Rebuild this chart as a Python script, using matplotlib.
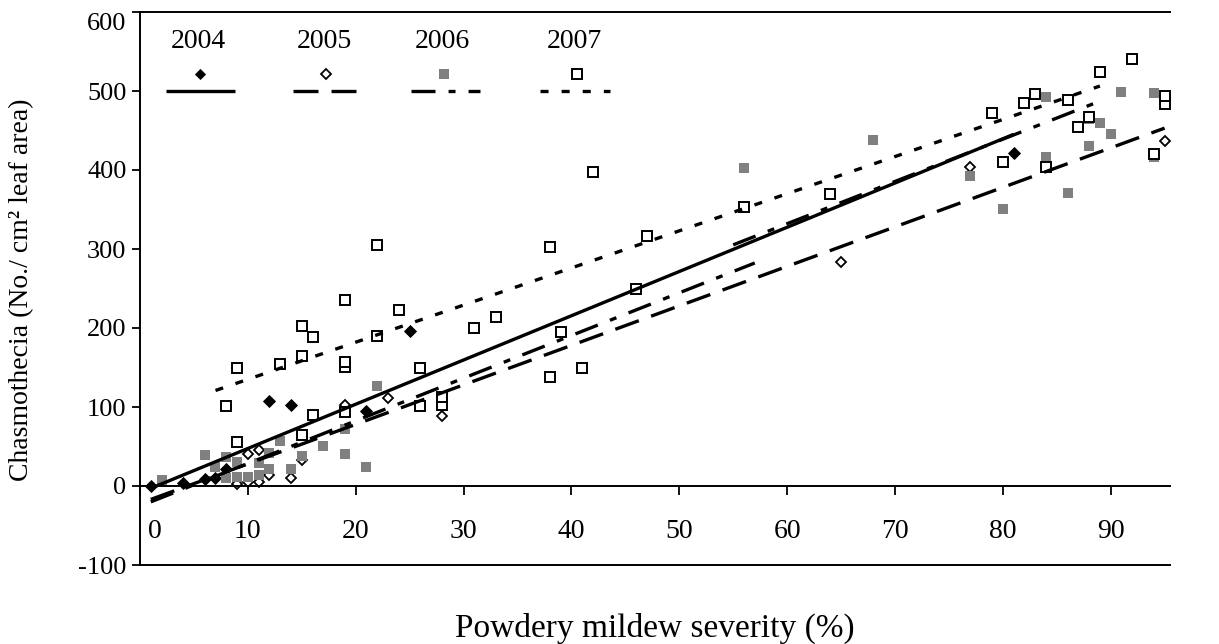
import matplotlib
matplotlib.use("Agg")
import matplotlib.pyplot as plt
from matplotlib.transforms import ScaledTranslation

plt.rcParams['font.family'] = ['Liberation Serif', 'DejaVu Serif']
plt.rcParams['lines.scale_dashes'] = False

# Powdery mildew severity (%) and chasmothecia density, one pair of lists per season
sev_2004 = [1, 4, 6, 7, 8, 12, 14, 21, 25, 81]
cha_2004 = [0, 4, 9, 10, 22, 107, 103, 95, 196, 422]

sev_2005 = [9, 10, 11, 12, 10, 11, 14, 15, 19, 23, 28, 65, 77, 95]
cha_2005 = [2, 5, 5, 14, 40, 45, 10, 33, 102, 111, 89, 283, 404, 437]

sev_2006 = [2, 6, 7, 8, 8, 9, 9, 10, 11, 11, 12, 12, 13, 14, 15, 17, 19, 19, 21, 22,
            56, 68, 77, 80, 84, 84, 86, 88, 88, 89, 90, 91, 94, 94]
cha_2006 = [8, 39, 24, 37, 10, 31, 12, 12, 14, 29, 22, 42, 57, 22, 38, 51, 41, 72, 24, 127,
            403, 438, 392, 351, 417, 493, 371, 431, 465, 460, 445, 499, 497, 417]

sev_2007 = [8, 9, 9, 13, 15, 15, 15, 16, 16, 19, 19, 19, 19, 22, 22, 24, 26, 26, 28, 28,
            31, 33, 38, 38, 39, 41, 42, 46, 47, 56, 64, 79, 80, 82, 83, 84, 86, 87, 88,
            89, 92, 94, 95, 95]
cha_2007 = [101, 56, 150, 154, 65, 164, 202, 90, 188, 94, 151, 157, 236, 190, 305, 223, 101, 149, 103, 113,
            200, 214, 138, 303, 195, 149, 397, 250, 316, 353, 369, 472, 410, 485, 496, 404, 488, 454, 467,
            524, 540, 420, 484, 494]

# Linear fits per season: (x start, x end, slope, intercept)
fit_2004 = [(1, 81, 5.6, -8.5)]
fit_2005 = [(1, 95, 5.0, -22.0)]
fit_2006 = [(1, 57, 5.4, -25.5), (55, 89, 5.35, 11.0)]
fit_2007 = [(7, 89, 4.7, 88.0)]

years = ['2004', '2005', '2006', '2007']
severity = [sev_2004, sev_2005, sev_2006, sev_2007]
chasmo = [cha_2004, cha_2005, cha_2006, cha_2007]
fits = [fit_2004, fit_2005, fit_2006, fit_2007]

x_ticks = [0, 10, 20, 30, 40, 50, 60, 70, 80, 90]
y_ticks = [-100, 0, 100, 200, 300, 400, 500, 600]

gray = '#808080'
markers = [
    dict(marker='D', ms=6.4, mfc='black', mec='black', mew=0.6),
    dict(marker='D', ms=5.2, mfc='white', mec='black', mew=1.3),
    dict(marker='s', ms=7.3, mfc=gray, mec=gray, mew=0),
    dict(marker='s', ms=6.8, mfc='white', mec='black', mew=1.4),
]
legend_markers = [
    dict(marker='D', ms=5.4, mfc='black', mec='black', mew=0.6),
    dict(marker='D', ms=4.8, mfc='white', mec='black', mew=1.3),
    dict(marker='s', ms=7.5, mfc=gray, mec=gray, mew=0),
    dict(marker='s', ms=6.6, mfc='white', mec='black', mew=1.4),
]
dashes = ['-', (0, (18, 9.4)), (0, (17.3, 9.4, 5, 9.4)), (0, (5.8, 9.4))]
lw = 2.4

fig = plt.figure(figsize=(12.19, 6.44), dpi=100)
ax = fig.add_axes([140 / 1219, 79 / 644, 1030 / 1219, 553 / 644])
ax.set_xlim(0, 95.5)
ax.set_ylim(-100, 600)

for i in range(4):
    ax.plot(severity[i], chasmo[i], linestyle='none', zorder=2 + i * 0.1,
            clip_on=False, **markers[i])
    for x0, x1, b, a in fits[i]:
        ax.plot([x0, x1], [a + b * x0, a + b * x1], color='black', lw=lw,
                linestyle=dashes[i], dash_capstyle='butt', solid_capstyle='butt',
                zorder=4)

# Legend row: year label, marker, line sample
leg_text_x = [0.0563, 0.1786, 0.2932, 0.4219]
leg_line_x = [(0.0252, 0.0922), (0.1485, 0.2097), (0.2633, 0.3301), (0.3883, 0.4563)]
for i in range(4):
    ax.text(leg_text_x[i], 0.946, years[i], transform=ax.transAxes,
            ha='center', va='center', fontsize=20)
    ax.plot([leg_text_x[i] + 0.002], [0.888], transform=ax.transAxes,
            linestyle='none', clip_on=False, zorder=5, **legend_markers[i])
    ax.plot(leg_line_x[i], [0.858, 0.858], transform=ax.transAxes, color='black',
            lw=lw, linestyle=dashes[i], dash_capstyle='butt', solid_capstyle='butt',
            clip_on=False)

# Axes frame: left and top borders, x axis at zero, closing line at -100
for s in ('left', 'top', 'bottom'):
    ax.spines[s].set_linewidth(1.4)
ax.spines['right'].set_visible(False)
ax.spines['bottom'].set_position(('data', 0))
ax.axhline(-100, color='black', lw=1.4, clip_on=False, zorder=1)

ax.set_yticks(y_ticks)
ax.set_yticklabels([str(v) for v in y_ticks])
ax.tick_params(axis='y', direction='out', length=5.8, width=1.3, pad=4, labelsize=19)
top_lbl = ax.yaxis.get_major_ticks()[-1].label1
top_lbl.set_transform(top_lbl.get_transform() +
                      ScaledTranslation(0, -9 / 100, fig.dpi_scale_trans))

ax.set_xticks(x_ticks)
ax.set_xticklabels([str(v) for v in x_ticks])
ax.tick_params(axis='x', direction='out', length=6.5, width=1.3, pad=17, labelsize=20)
zero_lbl = ax.xaxis.get_major_ticks()[0].label1
zero_lbl.set_transform(zero_lbl.get_transform() +
                       ScaledTranslation(15 / 100, 0, fig.dpi_scale_trans))

fig.text(22 / 1219, 1 - 290 / 644, 'Chasmothecia (No./ cm² leaf area)',
         rotation=90, ha='center', va='center', fontsize=20)
fig.text(655 / 1219, 1 - 628 / 644, 'Powdery mildew severity (%)',
         ha='center', va='center', fontsize=24)

fig.savefig('out.png', dpi=100, facecolor='white')
